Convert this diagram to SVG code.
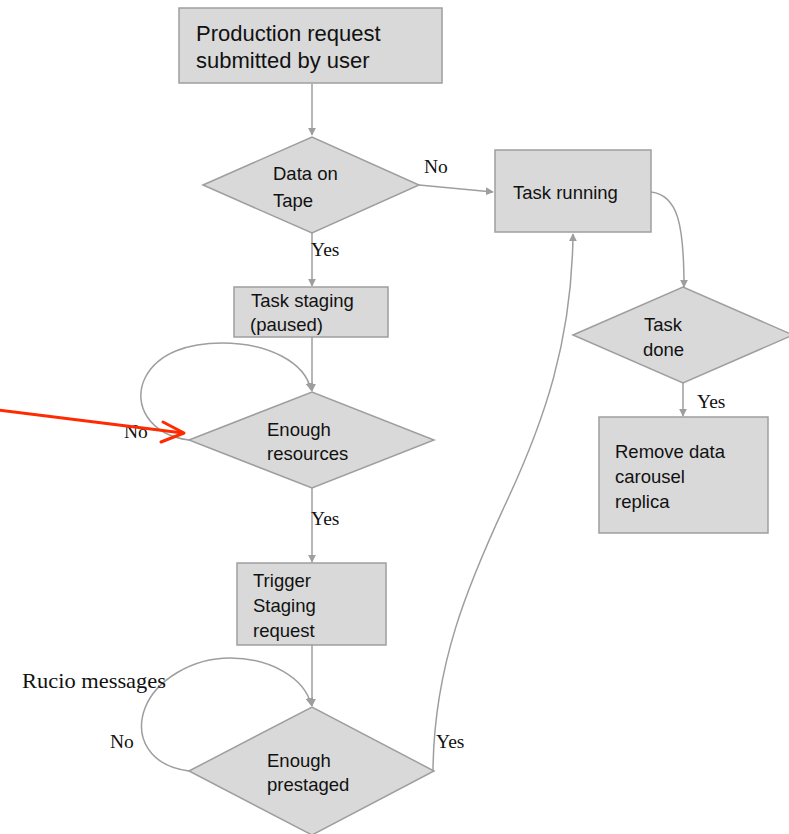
<svg xmlns="http://www.w3.org/2000/svg" width="789" height="834" viewBox="0 0 789 834">
<style>
.n{fill:#d9d9d9;stroke:#9e9e9e;stroke-width:1.5}
.t{font-family:"Liberation Sans",Arial,sans-serif;font-size:18.5px;fill:#111}
.l{font-family:"Liberation Serif","Times New Roman",serif;font-size:19.5px;fill:#111}
.c{fill:none;stroke:#9e9e9e;stroke-width:1.5}
</style>
<defs>
<marker id="ah" viewBox="0 0 10 10" refX="9" refY="5" markerWidth="8" markerHeight="8" markerUnits="userSpaceOnUse" orient="auto">
<path d="M0,0 L10,5 L0,10 Z" fill="#9e9e9e"/>
</marker>
</defs>
<rect width="789" height="834" fill="#fff"/>
<g id="connectors">
<line class="c" x1="312" y1="84" x2="312" y2="135" marker-end="url(#ah)"/>
<line class="c" x1="419" y1="185" x2="493" y2="192" marker-end="url(#ah)"/>
<line class="c" x1="312" y1="233" x2="312" y2="286" marker-end="url(#ah)"/>
<line class="c" x1="312" y1="337" x2="312" y2="391" marker-end="url(#ah)"/>
<path class="c" d="M189,440 C150,435 132,405 145,378 C158,352 190,343 222,343 C268,343 305,362 311,390" marker-end="url(#ah)"/>
<line class="c" x1="312" y1="488" x2="312" y2="562" marker-end="url(#ah)"/>
<line class="c" x1="312" y1="645" x2="312" y2="706" marker-end="url(#ah)"/>
<path class="c" d="M189,771 C150,766 134,738 145,708 C156,680 192,658 230,658 C270,658 305,678 311,705" marker-end="url(#ah)"/>
<path class="c" d="M433,770 C434,665 468,585 505,505 C545,420 572,340 573,234" marker-end="url(#ah)"/>
<path class="c" d="M651,192 C678,195 684,225 684,287" marker-end="url(#ah)"/>
<line class="c" x1="683" y1="383" x2="683" y2="416" marker-end="url(#ah)"/>
</g>
<g id="n1"><rect class="n" x="179" y="8" width="263" height="75"/>
<text class="t" style="font-size:22px" x="196" y="41">Production request</text>
<text class="t" style="font-size:22px" x="196" y="68">submitted by user</text></g>
<g id="n2"><polygon class="n" points="203,185 312,137 419,185 312,233"/>
<text class="t" x="273" y="180">Data on</text><text class="t" x="273" y="207">Tape</text></g>
<g id="n3"><rect class="n" x="495" y="150" width="156" height="82"/>
<text class="t" x="513" y="199">Task running</text></g>
<g id="n4"><rect class="n" x="234" y="287" width="154" height="50"/>
<text class="t" x="251" y="307">Task staging</text><text class="t" x="250" y="331">(paused)</text></g>
<g id="n5"><polygon class="n" points="189,440 312,392 434,440 312,488"/>
<text class="t" x="267" y="436">Enough</text><text class="t" x="267" y="460">resources</text></g>
<g id="n6"><rect class="n" x="237" y="563" width="149" height="82"/>
<text class="t" x="253" y="587">Trigger</text><text class="t" x="253" y="612">Staging</text><text class="t" x="253" y="637">request</text></g>
<g id="n7"><polygon class="n" points="189,771 312,707 434,771 312,835"/>
<text class="t" x="267" y="767">Enough</text><text class="t" x="267" y="791">prestaged</text></g>
<g id="n8"><polygon class="n" points="573,335 683,287 793,335 683,383"/>
<text class="t" x="644" y="331">Task</text><text class="t" x="643" y="356">done</text></g>
<g id="n9"><rect class="n" x="599" y="417" width="169" height="116"/>
<text class="t" x="615" y="458">Remove data</text><text class="t" x="615" y="483">carousel</text><text class="t" x="615" y="508">replica</text></g>
<g id="labels">
<text class="l" x="424" y="173">No</text>
<text class="l" x="311" y="256">Yes</text>
<text class="l" x="124" y="438">No</text>
<text class="l" x="311" y="525">Yes</text>
<text class="l" x="22" y="688" style="font-size:21px" textLength="144" lengthAdjust="spacingAndGlyphs">Rucio messages</text>
<text class="l" x="110" y="748">No</text>
<text class="l" x="436" y="748">Yes</text>
<text class="l" x="697" y="408">Yes</text>
</g>
<g id="red-arrow" fill="none" stroke="#ff2a00" stroke-width="3" stroke-linecap="round" stroke-linejoin="round">
<line x1="-2" y1="410" x2="183" y2="433"/>
<polyline points="163,422 184,433 161,442"/>
</g>
</svg>
